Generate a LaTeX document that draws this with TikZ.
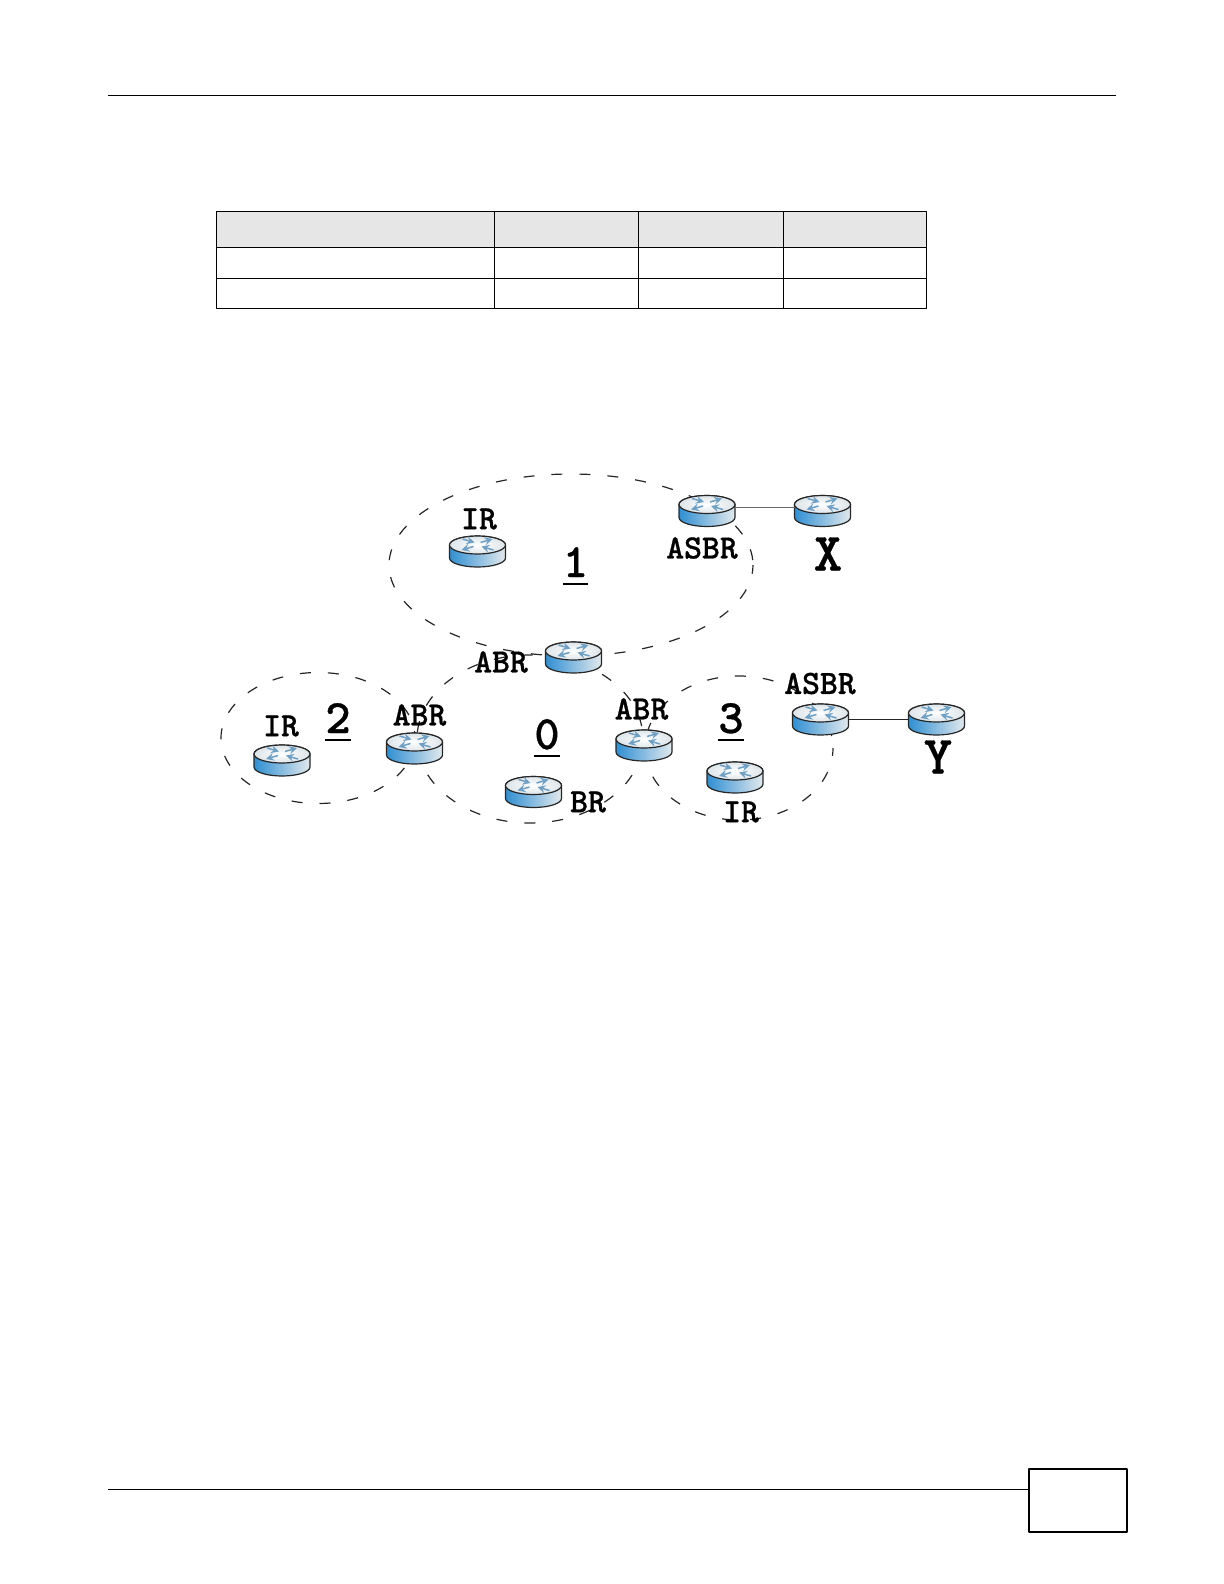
\documentclass[tikz,border=0pt]{standalone}
\usepackage{amsmath,amssymb}
\usepackage{fontspec}
\newfontfamily\labelfont{lmmonolt10-bold}[Extension=.otf,FakeBold=0.7]
\definecolor{routerblue}{HTML}{2F8FD3}
\definecolor{routermid}{HTML}{7DB9E2}
\definecolor{routerpale}{HTML}{E2E9EC}
\definecolor{routertop}{HTML}{DDE5E9}
\definecolor{routerarrow}{HTML}{6E9FC4}
\definecolor{headgray}{HTML}{E6E6E6}
\tikzset{
	routerbox/.style={minimum width=28pt,minimum height=15.5pt,inner sep=0pt,outer sep=0pt},
	routerline/.style={draw=black!85,line width=0.6pt},
	routerflow/.style={draw=routerarrow,line width=0.75pt,-stealth},
	router/.pic={
		\node[routerbox] (-body) at (0,0) {};
		\draw[routerline,left color=routerblue,middle color=routermid,right color=routerpale] (-28,6.5) -- (-28,-6.5) arc (180:360:28 and 9) -- (28,6.5) arc (0:180:28 and 9) -- cycle;
		\draw[routerline,inner color=white,outer color=routertop] (0,6.5) ellipse (28 and 9);
		\draw[routerflow] (-15,12.5) -- (-3,9);
		\draw[routerflow] (3,9) -- (15,12.5);
		\draw[routerflow] (-4,5) -- (-16,1.5);
		\draw[routerflow] (16,1.5) -- (4,5);
	},
	arealine/.style={line width=0.6pt,black!85,dash pattern=on 5.5pt off 8.5pt},
	routerlabel/.style={inner sep=0pt,font=\labelfont\fontsize{17}{18}\selectfont},
	biglabel/.style={inner sep=0pt,font=\labelfont\fontsize{27}{29}\selectfont},
	arealabel/.style={inner sep=0pt,anchor=base,font=\labelfont\fontsize{24}{26}\selectfont},
	tableline/.style={line width=0.45pt,black}
}
\begin{document}
\begin{tikzpicture}[x=0.5pt,y=0.5pt,>=stealth,line join=round]
	\useasboundingbox (0,0) rectangle (1224,-1584);
	% page rules and page number box
	\draw[line width=0.5pt] (108,-96) -- (1116,-96);
	\draw[line width=0.5pt] (108,-1489) -- (1029,-1489);
	\draw[line width=1.1pt] (1029,-1469) rectangle (1127,-1532);
	% table
	\fill[headgray] (216,-211) rectangle (926,-247.5);
	\draw[tableline] (216,-211) rectangle (926,-308);
	\draw[tableline] (216,-247.5) -- (926,-247.5);
	\draw[tableline] (216,-278) -- (926,-278);
	\draw[tableline] (494,-211) -- (494,-308);
	\draw[tableline] (638,-211) -- (638,-308);
	\draw[tableline] (783,-211) -- (783,-308);
	% areas
	\draw[arealine,dash phase=11.5pt] (571,-565) ellipse (182 and 91);
	\draw[arealine,dash phase=2pt] (318,-738) ellipse (97 and 65.5);
	\draw[arealine,dash phase=7.5pt] (530,-739) ellipse (113 and 84);
	\draw[arealine,dash phase=8pt] (739,-748) ellipse (94 and 72);
	% routers
	\pic (irOne) at (477.5,-551.5) {router};
	\pic (asbrOne) at (707,-511) {router};
	\pic (extX) at (822.5,-511) {router};
	\pic (abrOne) at (573.5,-657.5) {router};
	\pic (abrTwo) at (414.5,-748.5) {router};
	\pic (irTwo) at (282,-760.5) {router};
	\pic (brZero) at (533.5,-792) {router};
	\pic (abrThree) at (644,-745.5) {router};
	\pic (asbrThree) at (820.5,-719.5) {router};
	\pic (extY) at (936.5,-719.5) {router};
	\pic (irThree) at (735,-777.5) {router};
	\draw[line width=0.4pt,black!60] ([yshift=2pt]asbrOne-body.east) -- ([yshift=2pt]extX-body.west);
	\draw[line width=0.6pt,black!85] (asbrThree-body.east) -- (extY-body.west);
	% labels
	\node[routerlabel] (lblIrOne) at (479,-519) {IR};
	\node[routerlabel] (lblAsbrOne) at (702,-548) {ASBR};
	\node[routerlabel] (lblAbrOne) at (501,-662) {ABR};
	\node[routerlabel] (lblAbrTwo) at (419.5,-715) {ABR};
	\node[routerlabel] (lblIrTwo) at (281,-726) {IR};
	\node[routerlabel] (lblBr) at (588,-802) {BR};
	\node[routerlabel] (lblAbrThree) at (641.5,-709) {ABR};
	\node[routerlabel] (lblAsbrThree) at (820,-683.5) {ASBR};
	\node[routerlabel] (lblIrThree) at (741,-812) {IR};
	\node[biglabel] (lblX) at (828,-554) {X};
	\node[biglabel] (lblY) at (938,-757) {Y};
	\node[arealabel] (numOne) at (575.5,-577) {\underline{1}};
	\node[arealabel] (numTwo) at (338,-733) {\underline{2}};
	\node[arealabel] (numZero) at (547,-749) {\underline{0}};
	\node[arealabel] (numThree) at (731,-733) {\underline{3}};
\end{tikzpicture}
\end{document}
